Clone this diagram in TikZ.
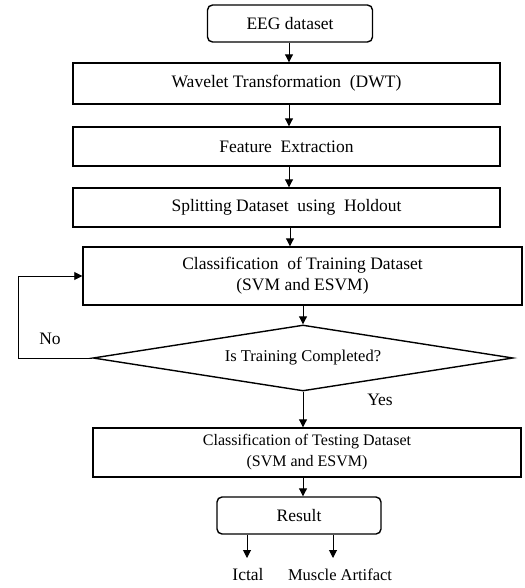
\documentclass[tikz,border=0pt]{standalone}
\usepackage{fontspec}
\setmainfont{Liberation Serif}
\usetikzlibrary{shapes.geometric,arrows.meta}

\tikzset{
	box/.style={draw, line width=1.4pt, minimum height=39pt, align=center, inner sep=0pt},
	roundbox/.style={box, rounded corners=5pt, minimum width=165pt, minimum height=37pt},
	arr/.style={-{Triangle[width=8pt,length=8pt]}, line width=1pt},
}

\begin{document}
\begin{tikzpicture}[x=1pt, y=-1pt, font=\fontsize{17.5}{21}\selectfont]
	\useasboundingbox (0,0) rectangle (524,588);

	%bloki
	\node[roundbox] (eeg) at (290,23.5) {EEG dataset};
	\node[box, minimum width=427pt, minimum height=41pt] (dwt) at (286.5,83.5) {Wavelet Transformation~ (DWT)};
	\node[box, minimum width=427pt] (feat) at (286.5,146.5) {Feature~ Extraction};
	\node[box, minimum width=427pt] (split) at (286.5,207.5) {Splitting Dataset~ using~ Holdout};
	\node[box, minimum width=439pt, minimum height=58pt] (train) at (302.5,276) {Classification~ of Training Dataset\\(SVM and ESVM)};
	\node[draw, diamond, line width=1.4pt, aspect=6.4, inner sep=0pt, minimum width=420pt, minimum height=66pt,
		font=\fontsize{16.5}{21}\selectfont] (check) at (303,358) {Is Training Completed?};
	\node[box, minimum width=428pt, minimum height=49pt, font=\fontsize{16}{21}\selectfont] (test) at (307,452.5) {Classification of Testing Dataset\\(SVM and ESVM)};
	\node[roundbox, minimum width=164pt] (res) at (299,515.5) {Result};

	%wyniki
	\node (ictal) at (248,575) {Ictal};
	\node[font=\fontsize{16.5}{21}\selectfont] (muscle) at (340,575) {Muscle Artifact};

	%strzalki
	\draw[arr] (eeg.south -| 289,0) -- (dwt.north -| 289,0);
	\draw[arr] (dwt.south -| 289,0) -- (feat.north -| 289,0);
	\draw[arr] (feat.south -| 289,0) -- (split.north -| 289,0);
	\draw[arr] (split.south -| 290,0) -- (train.north -| 290,0);
	\draw[arr] (train.south -| check) -- (check.north);
	\draw[arr] (check.south) -- (check.south |- test.north);
	\draw[arr] (check.south |- test.south) -- (check.south |- res.north);
	\draw[arr] (res.south -| 247,0) -- (247,558);
	\draw[arr] (res.south -| 333,0) -- (333,558);

	%petla
	\draw[arr, line width=0.8pt] (check.west) -- (18,358) |- (train.west);
	\node at (50,339) {No};
	\node at (380,400) {Yes};
\end{tikzpicture}
\end{document}
